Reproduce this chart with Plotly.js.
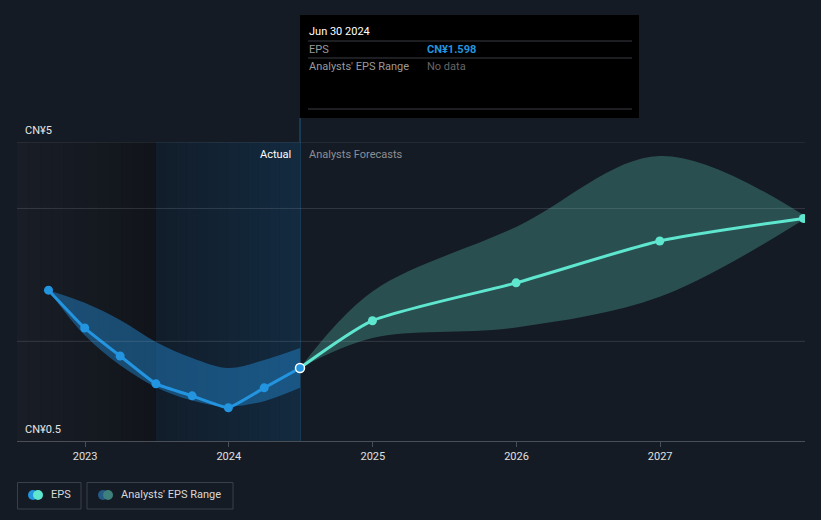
<!DOCTYPE html>
<html>
<head>
<meta charset="utf-8">
<script src="https://cdn.plot.ly/plotly-3.0.1.min.js"></script>
<style>
  html, body { margin: 0; padding: 0; background: #151b24; }
  #chart { width: 821px; height: 520px; }
</style>
</head>
<body>
<div id="chart"></div>
<script>
// ---- data ----
const epsDates = ['2022-09-30','2022-12-31','2023-03-31','2023-06-30','2023-09-30','2023-12-31','2024-03-31','2024-06-30'];
const epsValues = [2.77, 2.20, 1.78, 1.36, 1.18, 1.00, 1.30, 1.598];
const pastRangeHigh = [2.77, 2.58, 2.32, 1.99, 1.75, 1.60, 1.72, 1.90];
const pastRangeLow  = [2.77, 2.09, 1.64, 1.31, 1.11, 1.02, 1.10, 1.30];

const forecastDates = ['2024-06-30','2024-12-31','2025-12-31','2026-12-31','2027-12-31'];
const forecastValues = [1.598, 2.31, 2.88, 3.51, 3.85];
const forecastHigh = [1.598, 2.75, 3.72, 4.79, 3.90];
const forecastLow  = [1.598, 2.05, 2.21, 2.67, 3.83];

const xTickVals = ['2023-01-01','2024-01-01','2025-01-01','2026-01-01','2027-01-01'];
const xTickText = ['2023','2024','2025','2026','2027'];
const yGridVals = [2, 4, 5];
const yLabelVals = [0.5, 5];
const yLabelText = ['CN¥0.5', 'CN¥5'];
const xRange = ['2022-07-12', '2028-01-04'];
const yRange = [0.5, 5];

const pastStart = '2023-06-30';
const actualEnd = '2024-06-30';
const tooltipDate = 'Jun 30 2024';
const tooltipEps = 'CN¥' + epsValues[epsValues.length - 1].toFixed(3);

// ---- geometry helpers (pixel -> paper) ----
const M = {l: 17, r: 16, t: 142, b: 79};
const W = 821 - M.l - M.r, H = 520 - M.t - M.b;
const fx = px => (px - M.l) / W;
const fy = py => (M.t + H - py) / H;

const font = 'Roboto, "Open Sans", Arial, sans-serif';

// gradient strips for shaded background regions
function mix(c1, c2, t) {
  return 'rgb(' + c1.map((v, i) => Math.round(v + (c2[i] - v) * t)).join(',') + ')';
}
function iso(ms) { return new Date(ms).toISOString().slice(0, 19).replace('T', ' '); }
function stripShapes(from, to, c1, c2, n) {
  const a = new Date(from).getTime(), b = new Date(to).getTime();
  const out = [];
  for (let i = 0; i < n; i++) {
    out.push({type: 'rect', xref: 'x', yref: 'y', layer: 'below',
      x0: iso(a + (b - a) * i / n), x1: iso(a + (b - a) * (i + 1) / n + (i < n - 1 ? 86400000 : 0)),
      y0: yRange[0], y1: yRange[1], fillcolor: mix(c1, c2, (i + 0.5) / n), line: {width: 0}});
  }
  return out;
}
const gridShapes = yGridVals.map(v => ({
  type: 'line', xref: 'paper', yref: 'y', x0: 0, x1: 1, y0: v, y1: v, layer: 'above',
  line: {color: 'rgba(190,200,215,0.17)', width: 1}
}));

const traces = [
  // past range band
  {x: epsDates, y: pastRangeLow, mode: 'lines', line: {width: 0, shape: 'spline', smoothing: 1}, hoverinfo: 'skip', showlegend: false},
  {x: epsDates, y: pastRangeHigh, mode: 'lines', fill: 'tonexty', fillcolor: 'rgba(35,140,215,0.45)',
   line: {width: 0, shape: 'spline', smoothing: 1}, hoverinfo: 'skip', showlegend: false},
  // forecast range band
  {x: forecastDates, y: forecastLow, mode: 'lines', line: {width: 0, shape: 'spline', smoothing: 1}, hoverinfo: 'skip', showlegend: false},
  {x: forecastDates, y: forecastHigh, mode: 'lines', fill: 'tonexty', fillcolor: 'rgba(75,165,155,0.38)',
   line: {width: 0, shape: 'spline', smoothing: 1}, hoverinfo: 'skip', showlegend: false},
  // forecast line
  {x: forecastDates, y: forecastValues, mode: 'lines+markers',
   line: {color: '#5ee6cf', width: 3, shape: 'spline', smoothing: 0.6},
   marker: {color: '#5ee6cf', size: 9}, showlegend: false},
  // EPS line
  {x: epsDates, y: epsValues, mode: 'lines+markers',
   line: {color: '#2394df', width: 3, shape: 'spline', smoothing: 0.3},
   marker: {color: '#2394df', size: 9,
            line: {color: epsValues.map((v, i) => i === epsValues.length - 1 ? '#ffffff' : '#2394df'),
                   width: epsValues.map((v, i) => i === epsValues.length - 1 ? 1.5 : 0)}},
   showlegend: false}
];

const sepColor = '#3a3d42';
const shapes = [].concat(
  stripShapes(xRange[0], pastStart, [25, 30, 38], [17, 20, 26], 12),
  stripShapes(pastStart, actualEnd, [17, 29, 42], [19, 42, 64], 14),
  gridShapes,
  [
  // vertical cursor line
  {type: 'line', xref: 'x', yref: 'paper', x0: actualEnd, x1: actualEnd, y0: 0, y1: fy(118),
   line: {color: '#1f5a85', width: 1}, layer: 'below'},
  // tooltip box
  {type: 'rect', xref: 'paper', yref: 'paper', x0: fx(300), x1: fx(639), y0: fy(118), y1: fy(15),
   fillcolor: '#000000', line: {width: 0}, layer: 'above'},
  {type: 'line', xref: 'paper', yref: 'paper', x0: fx(308), x1: fx(632), y0: fy(41), y1: fy(41), line: {color: sepColor, width: 1}, layer: 'above'},
  {type: 'line', xref: 'paper', yref: 'paper', x0: fx(308), x1: fx(632), y0: fy(58), y1: fy(58), line: {color: sepColor, width: 1}, layer: 'above'},
  {type: 'line', xref: 'paper', yref: 'paper', x0: fx(308), x1: fx(632), y0: fy(109), y1: fy(109), line: {color: sepColor, width: 1}, layer: 'above'},
  // legend boxes
  {type: 'rect', xref: 'paper', yref: 'paper', x0: fx(17.5), x1: fx(81), y0: fy(509), y1: fy(482.5),
   fillcolor: 'rgba(0,0,0,0)', line: {color: '#3a3f48', width: 1}},
  {type: 'rect', xref: 'paper', yref: 'paper', x0: fx(87), x1: fx(233), y0: fy(509), y1: fy(482.5),
   fillcolor: 'rgba(0,0,0,0)', line: {color: '#3a3f48', width: 1}},
  // legend icons
  {type: 'circle', xref: 'paper', yref: 'paper', x0: fx(28), x1: fx(38), y0: fy(500), y1: fy(490), fillcolor: '#2394df', line: {width: 0}},
  {type: 'circle', xref: 'paper', yref: 'paper', x0: fx(33), x1: fx(43), y0: fy(500), y1: fy(490), fillcolor: '#5ee6cf', line: {width: 0}},
  {type: 'circle', xref: 'paper', yref: 'paper', x0: fx(98), x1: fx(108), y0: fy(500), y1: fy(490), fillcolor: '#245a85', line: {width: 0}},
  {type: 'circle', xref: 'paper', yref: 'paper', x0: fx(103), x1: fx(113), y0: fy(500), y1: fy(490), fillcolor: '#3e807b', line: {width: 0}}
  ]
);

const ann = (text, px, py, opts) => Object.assign({
  text: text, xref: 'paper', yref: 'paper', x: fx(px), y: fy(py), xanchor: 'left', yanchor: 'middle',
  showarrow: false, font: {family: font, size: 11, color: '#e6e6e6'}
}, opts || {});

const annotations = [
  ann(tooltipDate, 307, 31, {font: {family: font, size: 11, color: '#ffffff'}}),
  ann('EPS', 307, 49, {font: {family: font, size: 11, color: '#9a9a9a'}}),
  ann('<b>' + tooltipEps + '</b>', 425, 49, {font: {family: font, size: 11, color: '#2394df'}}),
  ann("Analysts' EPS Range", 307, 67, {font: {family: font, size: 11, color: '#9a9a9a'}}),
  ann('No data', 425, 67, {font: {family: font, size: 11, color: '#666666'}}),
  ann('Actual', 293, 154, {xanchor: 'right', font: {family: font, size: 11, color: '#ffffff'}}),
  ann('Analysts Forecasts', 307, 154, {font: {family: font, size: 11, color: '#8c8f94'}}),
  ann('EPS', 49, 495, {font: {family: font, size: 11, color: '#d8d8d8'}}),
  ann("Analysts' EPS Range", 119, 495, {font: {family: font, size: 11, color: '#d8d8d8'}})
].concat(yLabelVals.map((v, i) => ({
  text: yLabelText[i], xref: 'paper', yref: 'y', x: fx(23), y: v, xanchor: 'left', yanchor: 'middle',
  yshift: 11.5, showarrow: false, font: {family: font, size: 11, color: '#e6e6e6'}
})));

const layout = {
  width: 821, height: 520,
  margin: M,
  paper_bgcolor: '#151b24',
  plot_bgcolor: '#151b24',
  showlegend: false,
  hovermode: false,
  font: {family: font, size: 11, color: '#e6e6e6'},
  xaxis: {
    type: 'date', range: xRange, tickvals: xTickVals, ticktext: xTickText,
    showgrid: false, zeroline: false, showline: true, linecolor: '#4a4f57', linewidth: 1,
    ticks: 'outside', ticklen: 5, tickcolor: '#4a4f57', tickfont: {family: font, size: 11, color: '#e0e0e0'}
  },
  yaxis: {
    range: yRange, showticklabels: false, showgrid: false, zeroline: false, showline: false, ticks: ''
  },
  shapes: shapes,
  annotations: annotations
};

Plotly.newPlot('chart', traces, layout, {displayModeBar: false, staticPlot: true});
</script>
</body>
</html>
